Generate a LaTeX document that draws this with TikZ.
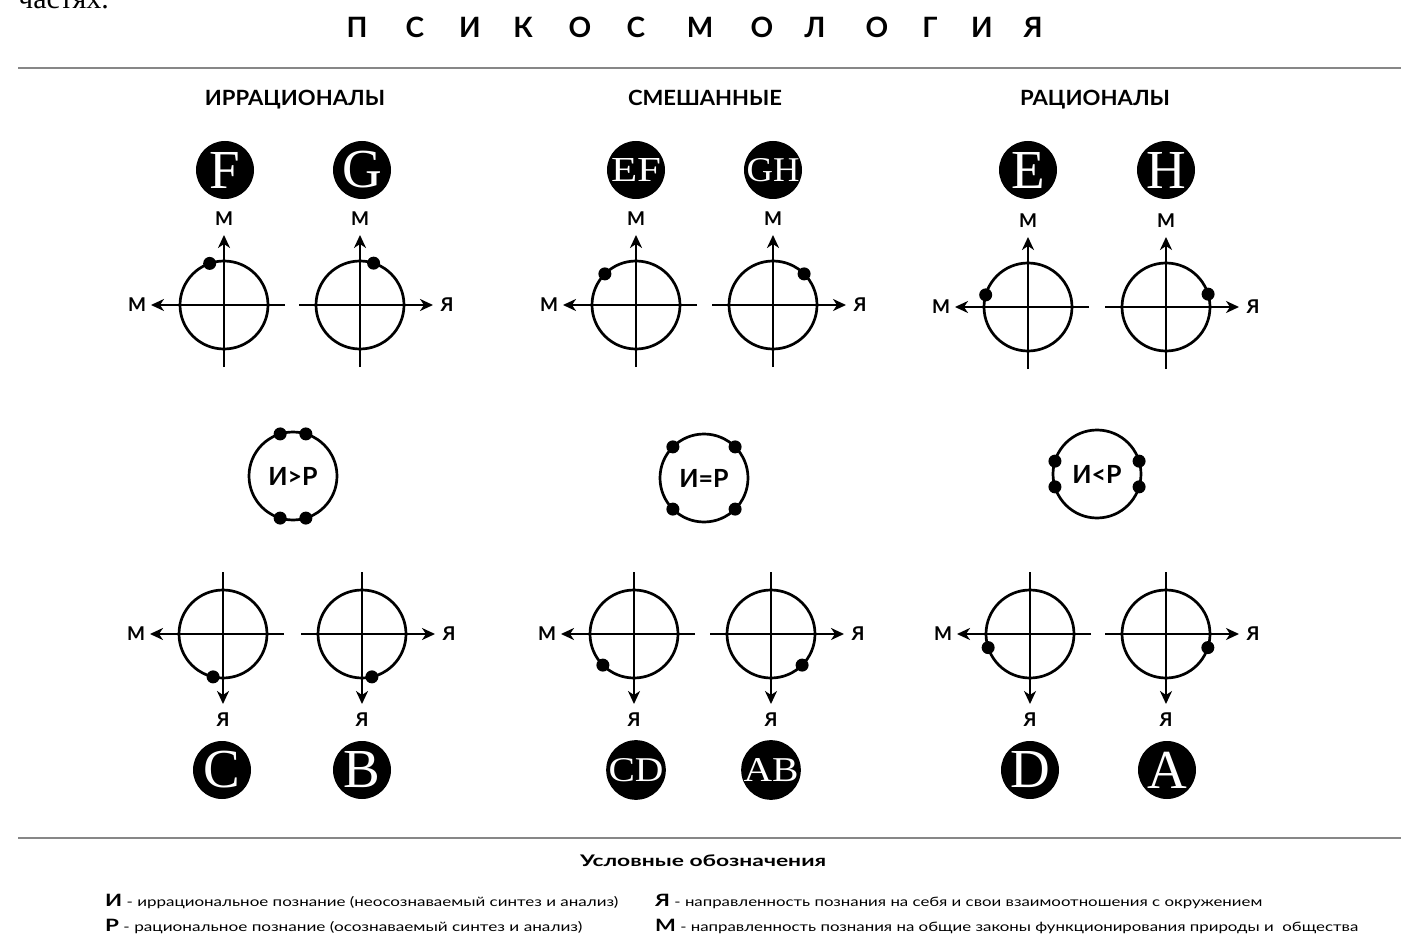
\documentclass[tikz,border=0pt]{standalone}
\usepackage{fontspec}
\usepackage{graphicx}
\setmainfont{Lato}
\newfontfamily\serifc{Liberation Serif}
\usetikzlibrary{arrows.meta,calc}
\definecolor{rulegray}{RGB}{135,135,135}
\tikzset{
  ring/.style={circle,draw,line width=2.7pt,minimum size=88pt,inner sep=0pt},
  axisarr/.style={line width=2.7pt,-{Stealth[length=13pt,width=12pt,inset=4pt]}},
  dot/.style={circle,fill=black,minimum size=13pt,inner sep=0pt},
  axlab/.style={font=\bfseries\fontsize{19}{19}\selectfont,inner sep=0pt},
  badge/.style={circle,fill=black,minimum size=58pt,inner sep=0pt,text=white,font=\serifc\fontsize{55}{55}\selectfont},
  rulestyle/.style={draw=rulegray,line width=2pt},
  titlech/.style={font=\bfseries\fontsize{28}{28}\selectfont,inner sep=0pt,anchor=base},
  header/.style={font=\bfseries\fontsize{21}{21}\selectfont,inner sep=0pt,anchor=base},
  ratio/.style={font=\bfseries\fontsize{25}{25}\selectfont,inner sep=0pt},
  legend/.style={font=\fontsize{13}{13}\selectfont,inner sep=0pt,anchor=base west},
}
% #1 name, #2 x, #3 y, #4 hdir (+1 right, -1 left), #5 vdir (-1 up, +1 down), #6 dot angle (visual), #7 hlabel, #8 vlabel
\newcommand{\psicross}[8]{%
  \node[ring] (#1) at (#2,#3) {};
  \coordinate (#1-hs) at ($(#1.center)+({-61*(#4)},0)$);
  \coordinate (#1-ht) at ($(#1.center)+({73*(#4)},0)$);
  \coordinate (#1-vs) at ($(#1.center)+(0,{-62*(#5)})$);
  \coordinate (#1-vt) at ($(#1.center)+(0,{70*(#5)})$);
  \draw[axisarr] (#1-hs) -- (#1-ht);
  \draw[axisarr] (#1-vs) -- (#1-vt);
  \node[axlab] (#1-hl) at ($(#1-ht)+({14*(#4)},0)$) {#7};
  \node[axlab] (#1-vl) at ($(#1-vt)+(0,{16*(#5)})$) {#8};
  \node[dot] (#1-d) at ($(#1.center)+({-(#6)}:44)$) {};
}
\newcommand{\psiring}[5]{% #1 name, #2 x, #3 y, #4 text, #5 dot-angle list
  \node[ring] (#1) at (#2,#3) {};
  \node[ratio] (#1-t) at (#1.center) {#4};
  \foreach \a [count=\k] in {#5} {\node[dot] (#1-d\k) at ($(#1.center)+({-(\a)}:44)$) {};}
}
\begin{document}
\begin{tikzpicture}[x=1pt,y=-1pt]
\useasboundingbox (0,0) rectangle (1401,936);

% cut text at top left
\node[font=\serifc\fontsize{30}{30}\selectfont,inner sep=0pt,anchor=base west] (cut) at (18,9) {частях.};

% title
\foreach \ch/\x [count=\i] in {П/357,С/415,И/470,К/523,О/580,С/636,М/700,О/762,Л/815,О/877,Г/930,И/982,Я/1033}
  \node[titlech] (t\i) at (\x,38) {\ch};

% rules
\coordinate (r1a) at (18,68); \coordinate (r1b) at (1401,68);
\coordinate (r2a) at (18,838); \coordinate (r2b) at (1401,838);
\draw[rulestyle] (r1a) -- (r1b);
\draw[rulestyle] (r2a) -- (r2b);

% headers
\node[header] (h1) at (295,106) {\resizebox{180pt}{\height}{ИРРАЦИОНАЛЫ}};
\node[header] (h2) at (705,106) {\resizebox{154pt}{\height}{СМЕШАННЫЕ}};
\node[header] (h3) at (1095,106) {\resizebox{150pt}{\height}{РАЦИОНАЛЫ}};

% badges top
\node[badge] (bF) at (225,170) {F};
\node[badge] (bG) at (362,170) {G};
\node[badge] (bEF) at (636,170) {\resizebox{50pt}{23pt}{EF}};
\node[badge] (bGH) at (773,170) {\resizebox{53pt}{23pt}{GH}};
\node[badge] (bE) at (1028,170) {E};
\node[badge] (bH) at (1166,170) {H};

% badges bottom
\node[badge] (bC) at (222,770) {C};
\node[badge] (bB) at (362,770) {B};
\node[badge] (bCD) at (636,770) {\resizebox{55pt}{23pt}{CD}};
\node[badge] (bAB) at (771,770) {\resizebox{55pt}{23pt}{AB}};
\node[badge] (bD) at (1030,770) {D};
\node[badge] (bA) at (1167,770) {A};

% top crosses
\psicross{cF}{224}{305}{-1}{-1}{109}{М}{М}
\psicross{cG}{360}{305}{1}{-1}{72}{Я}{М}
\psicross{cEF}{636}{305}{-1}{-1}{135}{М}{М}
\psicross{cGH}{773}{305}{1}{-1}{45}{Я}{М}
\psicross{cE}{1028}{307}{-1}{-1}{164}{М}{М}
\psicross{cH}{1166}{307}{1}{-1}{17}{Я}{М}

% bottom crosses
\psicross{cC}{223}{634}{-1}{1}{-103}{М}{Я}
\psicross{cB}{362}{634}{1}{1}{-77}{Я}{Я}
\psicross{cCD}{634}{634}{-1}{1}{-135}{М}{Я}
\psicross{cAB}{771}{634}{1}{1}{-45}{Я}{Я}
\psicross{cD}{1030}{634}{-1}{1}{-162}{М}{Я}
\psicross{cA}{1166}{634}{1}{1}{-18}{Я}{Я}

% middle rings
\psiring{mL}{293}{476}{И>Р}{73,107,-73,-107}
\psiring{mM}{704}{478}{И=Р}{45,135,-45,-135}
\psiring{mR}{1097}{474}{И<Р}{17,-17,163,197}

% legend
\node[font=\bfseries\fontsize{16}{16}\selectfont,inner sep=0pt,anchor=base] (lt) at (703,866) {\resizebox{246pt}{\height}{Условные обозначения}};
\node[legend] (L1) at (105,906) {\resizebox{513pt}{\height}{{\bfseries\fontsize{17}{17}\selectfont И} - иррациональное познание (неосознаваемый синтез и анализ)}};
\node[legend] (L2) at (105,931) {\resizebox{477pt}{\height}{{\bfseries\fontsize{17}{17}\selectfont Р} - рациональное познание (осознаваемый синтез и анализ)}};
\node[legend] (L3) at (655,906) {\resizebox{607pt}{\height}{{\bfseries\fontsize{17}{17}\selectfont Я} - направленность познания на себя и свои взаимоотношения с окружением}};
\node[legend] (L4) at (655,931) {\resizebox{703pt}{\height}{{\bfseries\fontsize{17}{17}\selectfont М} - направленность познания на общие законы функционирования природы и\ \ общества}};
\end{tikzpicture}
\end{document}
